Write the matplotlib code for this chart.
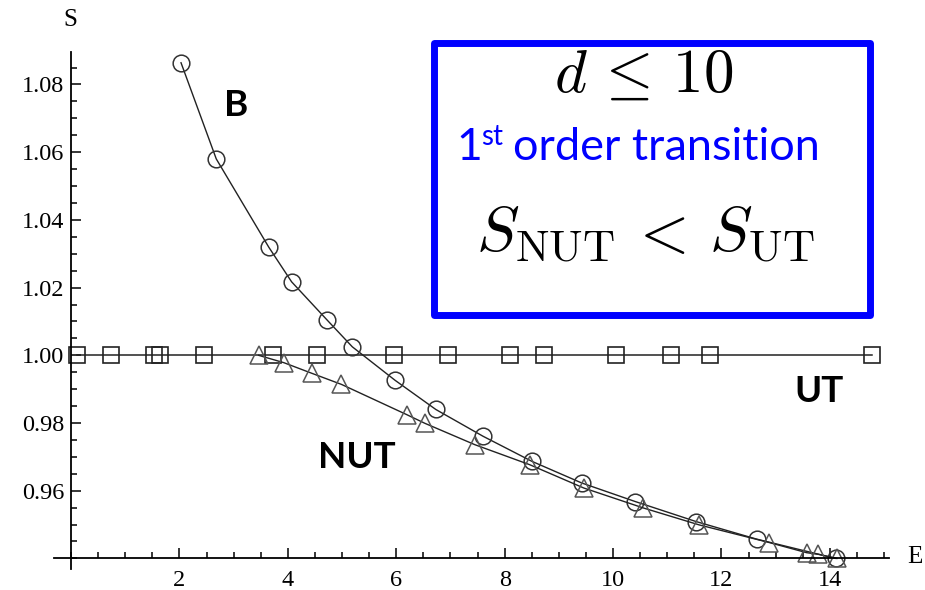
import matplotlib; matplotlib.use('Agg')
import numpy as np
from matplotlib import pyplot as plt
from matplotlib.patches import Rectangle
from matplotlib.ticker import MultipleLocator, FixedLocator

plt.rcParams.update({
    'font.family': 'Liberation Serif',
    'mathtext.fontset': 'cm',
    'axes.linewidth': 1.3,
})

BLUE = (0/255, 0/255, 255/255)
INK = '#222222'

# Data ----------------------------------------------------------------------
ut_e = [0.11, 0.73, 1.53, 1.65, 2.45, 3.72, 4.54, 5.95, 6.96, 8.09, 8.73,
        10.05, 11.07, 11.78, 14.77]
ut_s = [1.000, 1.000, 1.000, 1.000, 1.000, 1.000, 1.000, 1.000, 1.000,
        1.000, 1.000, 1.000, 1.000, 1.000, 1.000]

b_e = [2.03, 2.68, 3.65, 4.07, 4.72, 5.19, 5.98, 6.73, 7.60, 8.50, 9.42,
       10.41, 11.53, 12.65, 14.11]
b_s = [1.0864, 1.0580, 1.0319, 1.0217, 1.0105, 1.0025, 0.9926, 0.9840,
       0.9761, 0.9687, 0.9623, 0.9568, 0.9509, 0.9457, 0.9400]

nut_e = [3.46, 3.93, 4.44, 4.99, 6.19, 6.53, 7.45, 8.46, 9.46, 10.56,
         11.59, 12.88, 13.57, 13.79, 14.13]
nut_s = [1.0000, 0.9978, 0.9947, 0.9914, 0.9825, 0.9799, 0.9736, 0.9677,
         0.9608, 0.9549, 0.9499, 0.9447, 0.9417, 0.9412, 0.9400]

x_ticks = [2, 4, 6, 8, 10, 12, 14]
y_ticks = [0.96, 0.98, 1.00, 1.02, 1.04, 1.06, 1.08]
y_tick_labels = ['0.96', '0.98', '1.00', '1.02', '1.04', '1.06', '1.08']

# Plot -----------------------------------------------------------------------
fig = plt.figure(figsize=(9.25, 5.9), dpi=100)
ax = fig.add_axes([0.058, 0.0363, 0.9036, 0.8751])

ax.plot(ut_e, ut_s, color=INK, lw=1.1, marker='s', ms=12, mfc='none',
        mec=INK, mew=1.2)
ax.plot(b_e, b_s, color=INK, lw=1.0, marker='o', ms=12, mfc='none',
        mec='#333333', mew=1.1)
ax.plot(nut_e, nut_s, color=INK, lw=1.0, marker='^', ms=13, mfc='none',
        mec='#555555', mew=1.1)

ax.set_xlim(-0.32, 15.1)
ax.set_ylim(0.937, 1.0895)

for side in ('top', 'right'):
    ax.spines[side].set_visible(False)
ax.spines['left'].set_position(('data', 0))
ax.spines['bottom'].set_position(('data', 0.94))

ax.xaxis.set_major_locator(FixedLocator(x_ticks))
ax.xaxis.set_minor_locator(MultipleLocator(0.5))
ax.set_yticks(y_ticks)
ax.set_yticklabels(y_tick_labels)
ax.yaxis.set_minor_locator(MultipleLocator(0.005))
ax.tick_params(which='both', direction='in', width=1.1, labelsize=17.5)
ax.tick_params(which='major', length=7.5)
ax.tick_params(which='minor', length=4.5)
ax.tick_params(axis='x', pad=8)
ax.tick_params(axis='y', pad=5)

# axis names at the ends of the axes
fig.text(70 / 925, 1 - 20 / 590, 'S', ha='center', va='center', fontsize=18)
fig.text(907 / 925, 1 - 557 / 590, 'E', ha='left', va='center', fontsize=18)

# curve labels
lbl = dict(family='Lato', fontweight='bold', fontsize=26.5, ha='center',
           va='center', color='black')
ax.text(3.04, 1.0738, 'B', **lbl)
ax.text(5.28, 0.9698, 'NUT', **lbl)
ax.text(13.80, 0.9893, 'UT', **lbl)

# blue box with the regime info
box = Rectangle((434 / 925, 1 - 315 / 590), 436 / 925, 272 / 590,
                transform=fig.transFigure, fill=False, edgecolor=BLUE,
                lw=5, joinstyle='round')
fig.patches.append(box)

fig.text(644 / 925, 1 - 92 / 590, r'$d\,\leq\,10$', ha='center',
         va='baseline', fontsize=44, color='black')
fig.text(456 / 925, 1 - 160 / 590, '1', ha='left', va='baseline',
         family='Lato', fontsize=32, color=BLUE)
fig.text(481 / 925, 1 - 145 / 590, 'st', ha='left', va='baseline',
         family='Lato', fontsize=20, color=BLUE)
fig.text(513 / 925, 1 - 160 / 590, 'order transition', ha='left',
         va='baseline', family='Lato', fontsize=32.5, color=BLUE)
fig.text(645 / 925, 1 - 252 / 590,
         r'$S_{\mathrm{NUT}}\,<\,S_{\mathrm{UT}}$',
         ha='center', va='baseline', fontsize=46, color='black')

plt.savefig('out.png', dpi=100)
plt.close()
